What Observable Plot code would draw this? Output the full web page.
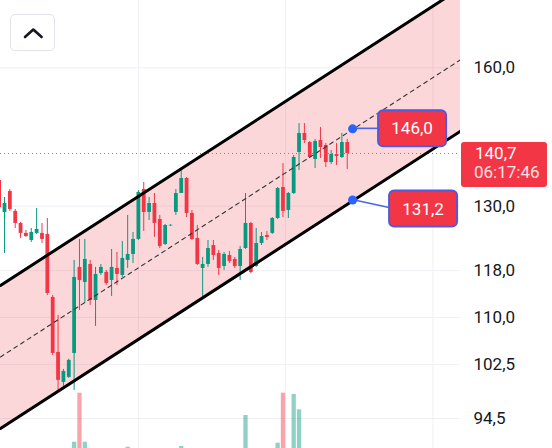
<!DOCTYPE html>
<html><head><meta charset="utf-8">
<script src="https://cdn.jsdelivr.net/npm/d3@7"></script>
<script src="https://cdn.jsdelivr.net/npm/@observablehq/plot@0.6"></script>
<style>
html,body{margin:0;padding:0;background:#fff;}
#wrap{position:relative;width:552px;height:448px;overflow:hidden;background:#fff;font-family:Roboto,sans-serif;}
#wrap svg.layer{position:absolute;left:0;top:0;}
#btn{position:absolute;left:10px;top:14px;width:45px;height:37px;border:1px solid #e0e3eb;border-radius:5px;box-sizing:border-box;background:#fff;}
</style></head><body>
<div id="wrap">
  <div id="btn"><svg width="45" height="37"><path d="M14 22 L22.3 14.5 L30.6 22" stroke="#131722" stroke-width="2.6" fill="none" stroke-linecap="round" stroke-linejoin="round"/></svg></div>
</div>
<script>
// ---- data ----
const idx = [-1,0,1,2,3,4,5,6,7,8,9,10,11,12,13,14,15,16,17,18,19,20,21,22,23,24,25,26,27,28,29,30,31,32,33,34,35,36,37,38,39,40,41,42,43,44,45,46,47,48,49,50,51,52,53,54,55,56,57,58,59,60,61,62,63,64];
const open  = [135.11,128.77,132.89,128.97,126.66,124.78,123.47,124.78,124.78,124.59,113.34,104.36,99.77,100.52,104.20,118.57,115.92,119.10,112.83,117.50,117.68,116.27,118.39,117.15,119.82,120.90,123.66,133.29,128.77,130.52,127.42,122.73,126.20,128.77,132.49,135.51,128.58,123.84,118.39,119.10,122.54,121.08,118.74,120.72,120.00,118.74,121.99,126.66,118.74,122.91,124.40,124.78,127.61,133.69,129.16,132.49,140.91,144.99,143.04,139.43,143.47,142.40,138.80,140.48,139.85,143.04];
const high  = [135.71,131.70,133.30,129.35,126.85,125.34,125.72,129.55,126.66,127.61,113.68,110.32,101.73,103.30,119.82,123.66,123.66,119.82,118.57,119.10,118.03,121.81,121.27,123.29,128.19,124.96,133.09,134.70,131.70,132.49,128.19,126.47,126.40,133.29,137.36,135.71,129.16,126.28,120.36,123.47,123.47,121.63,121.27,121.45,120.36,122.36,132.49,126.85,125.72,124.96,125.15,127.80,133.69,138.59,132.69,140.27,147.17,147.17,143.26,143.69,146.30,142.83,141.33,142.83,144.99,143.69];
const low   = [129.16,121.08,128.97,125.72,123.84,124.03,123.10,124.59,122.91,113.68,103.89,98.57,99.17,100.37,98.57,111.15,112.33,111.99,108.52,117.15,115.40,113.51,115.40,116.80,118.39,119.28,123.47,125.15,127.23,124.03,121.99,122.54,126.10,128.19,132.49,127.80,123.47,118.92,113.34,118.57,119.82,117.15,118.03,119.28,118.39,116.27,121.81,117.50,118.57,122.54,123.47,124.59,127.42,127.80,127.61,132.30,137.15,142.83,139.64,137.56,139.64,137.77,138.39,138.18,139.64,137.36];
const close = [129.74,130.52,129.35,126.66,124.78,124.21,124.96,125.53,123.66,114.02,104.20,100.07,101.43,103.12,116.80,116.27,120.00,112.83,117.33,118.57,115.75,118.57,117.33,120.18,120.90,123.66,132.69,128.77,130.52,126.66,122.36,126.28,126.32,132.49,135.51,128.58,123.66,119.10,119.10,121.99,120.72,118.39,120.90,119.64,118.74,121.81,126.66,117.68,122.91,124.21,124.03,127.61,133.49,128.97,132.49,139.85,144.99,143.47,139.85,143.26,141.97,138.80,140.48,140.06,143.04,140.70];
const volume = [14,12,9,11,8,7,9,10,8,16,18,20,12,13,28.3,77.3,28.3,15,17,9,8,12,10,14,23.3,13,19,16,9,12,11,8,6,14,24,17,13,15,12,10,9,11,8,9,7,12,55,18,14,9,8,12,27.3,77.3,16,76,60.7,19,14,12,13,11,9,8,10,12];
const yTicks = [160, 130, 118, 110, 102.5, 94.5];
const timeGrid = [25, 52.5, 80];
const channelIdx = [-0.747, 85.15];
const channelUpper = [115.40, 180.30];
const channelLower = [93.10, 145.47];
const channelMid = [103.65, 161.95];
const annoIdx = [65, 65];
const annoPrice = [146.0, 131.2];
const annoText = ["146,0", "131,2"];
const lastPrice = 140.7;
const lastPriceText = "140,7";
const countdownText = "06:17:46";

// ---- build ----
const UP = "#089981", DOWN = "#f23645";
const candles = idx.map((i, k) => ({i, o: open[k], h: high[k], l: low[k], c: close[k], v: volume[k]}));
const isUp = d => d.c >= d.o;
const channel = channelIdx.map((i, k) => ({i, upper: channelUpper[k], lower: channelLower[k], mid: channelMid[k]}));
const annos = annoIdx.map((i, k) => ({i, price: annoPrice[k], text: annoText[k], k}));
const xDomain = [-0.747, 85.15];
const yDomain = [90.34, 177.03];
const fmt = d => d.toFixed(1).replace(".", ",");
const FONT = "Roboto, sans-serif";

const annoLayout = [{bx: 26, by: -18, lx: 26, ly: 0}, {bx: 37, by: -9, lx: 37, ly: 8}];

function annoMark(index, scales, values, dims) {
  const g = d3.create("svg:g");
  annos.forEach((a, k) => {
    const cx = scales.x(a.i), cy = scales.y(a.price);
    const L = annoLayout[k];
    g.append("line").attr("x1", cx).attr("y1", cy).attr("x2", cx + L.lx).attr("y2", cy + L.ly)
      .attr("stroke", "#4a66e0").attr("stroke-width", 1.6);
    g.append("rect").attr("x", cx + L.bx).attr("y", cy + L.by).attr("width", 68).attr("height", 36).attr("rx", 5)
      .attr("fill", "#f23645").attr("stroke", "#5558d8").attr("stroke-width", 2);
    g.append("text").attr("x", cx + L.bx + 34).attr("y", cy + L.by + 24).attr("text-anchor", "middle")
      .attr("fill", "#fff").attr("font-size", 17).attr("font-family", FONT).text(a.text);
  });
  return g.node();
}

function priceTag(index, scales, values, dims) {
  const g = d3.create("svg:g").attr("text-anchor", "start");
  const y = scales.y(lastPrice);
  const x0 = dims.width - dims.marginRight;
  g.append("rect").attr("x", x0 + 1).attr("y", y - 11).attr("width", 86).attr("height", 45).attr("rx", 3).attr("fill", "#f23645");
  g.append("text").attr("x", x0 + 15).attr("y", y + 6.5).attr("text-anchor", "start").attr("fill", "#fff").attr("font-size", 17).attr("font-family", FONT).text(lastPriceText);
  g.append("text").attr("x", x0 + 14).attr("y", y + 25.5).attr("text-anchor", "start").attr("fill", "#fde2e5").attr("font-size", 17).attr("font-family", FONT).text(countdownText);
  return g.node();
}

const main = Plot.plot({
  width: 552, height: 448, marginLeft: 0, marginRight: 92, marginTop: 0, marginBottom: 0,
  style: {background: "transparent", fontFamily: FONT},
  x: {domain: xDomain, axis: null},
  y: {type: "log", domain: yDomain, axis: null},
  color: {type: "identity"},
  marks: [
    Plot.gridY(yTicks, {stroke: "#eef0f4", strokeOpacity: 1}),
    Plot.ruleX(timeGrid, {stroke: "#eef0f4", strokeOpacity: 1}),
    Plot.areaY(channel, {x: "i", y1: "lower", y2: "upper", fill: "#f23645", fillOpacity: 0.2, clip: true}),
    Plot.ruleX(candles, {x: "i", y1: "l", y2: "h", stroke: d => isUp(d) ? UP : DOWN, strokeWidth: 1}),
    Plot.ruleX(candles, {x: "i", y1: "o", y2: "c", stroke: d => isUp(d) ? UP : DOWN, strokeWidth: 3.8}),
    Plot.ruleY([lastPrice], {stroke: "#d85c66", strokeWidth: 1, strokeDasharray: "1,3"}),
    Plot.line(channel, {x: "i", y: "mid", stroke: "#333", strokeWidth: 1.1, strokeDasharray: "4,4", clip: true}),
    Plot.line(channel, {x: "i", y: "upper", stroke: "#000", strokeWidth: 3, clip: true}),
    Plot.line(channel, {x: "i", y: "lower", stroke: "#000", strokeWidth: 3, clip: true}),
    Plot.axisY(yTicks, {anchor: "right", tickSize: 0, tickPadding: 13, tickFormat: fmt, fontSize: 17, fill: "#131722", label: null}),
    annoMark,
    Plot.dot(annos, {x: "i", y: "price", r: 4.5, fill: "#2962ff", stroke: "none"}),
    priceTag
  ]
});
main.classList.add("layer");

const vol = Plot.plot({
  width: 552, height: 448, marginLeft: 0, marginRight: 92, marginTop: 0, marginBottom: 0,
  style: {background: "transparent"},
  x: {domain: xDomain, axis: null},
  y: {domain: [0, 100], range: [470, 370], axis: null},
  color: {type: "identity"},
  marks: [
    Plot.ruleX(candles, {x: "i", y1: 0, y2: "v", stroke: d => isUp(d) ? "rgba(8,153,129,0.45)" : "rgba(242,54,69,0.45)", strokeWidth: 4.3})
  ]
});
vol.classList.add("layer");

const wrap = document.getElementById("wrap");
wrap.insertBefore(main, wrap.firstChild);
wrap.insertBefore(vol, document.getElementById("btn"));
</script>
</body></html>
